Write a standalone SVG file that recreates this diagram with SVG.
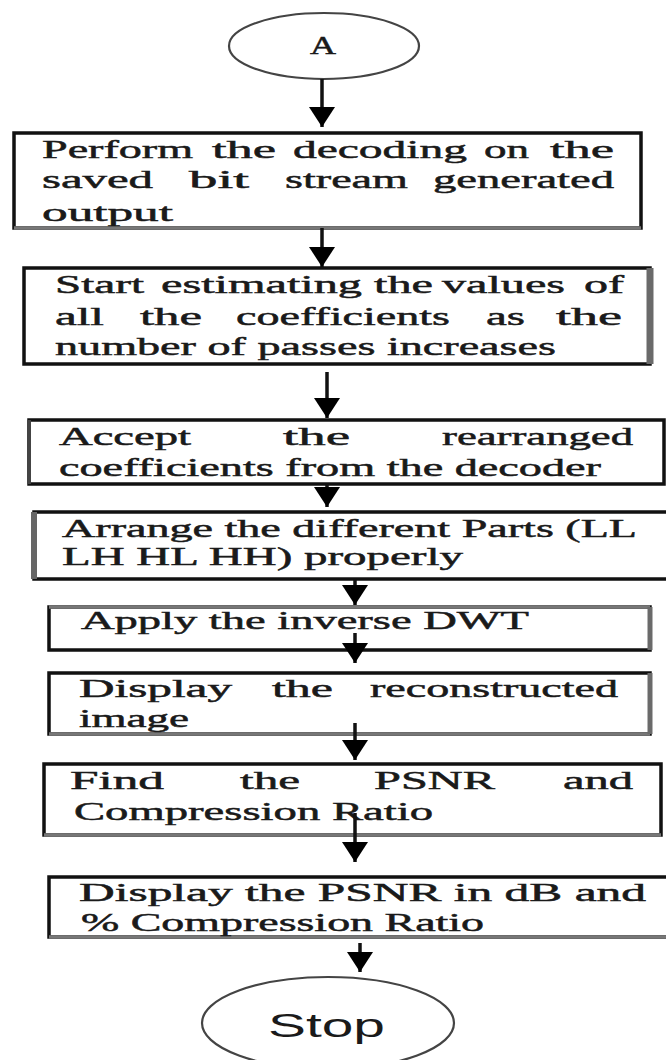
<svg xmlns="http://www.w3.org/2000/svg" width="666" height="1060" viewBox="0 0 666 1060">
<style>
.bg{fill:#fff}
.box{fill:#fff;stroke:#111;stroke-width:3.5}
.gr{stroke:#777;stroke-width:3.5}
.ell{fill:#fff;stroke:#444;stroke-width:2.2}
.t{font-family:"Liberation Serif","Times New Roman",serif;font-size:26px;fill:#1a1a1a;stroke:#1a1a1a;stroke-width:0.5}
.s{font-family:"Liberation Sans",Arial,sans-serif;font-size:34px;fill:#1a1a1a}
.sh{stroke:#111;stroke-width:3.5;fill:none}
</style>
<defs>
<marker id="ah" viewBox="0 0 20 26" refX="20" refY="13" markerWidth="20" markerHeight="26" markerUnits="userSpaceOnUse" orient="auto">
<path d="M0,0 L20,13 L0,26 Z" fill="#000"/>
</marker>
</defs>
<rect class="bg" x="0" y="0" width="666" height="1060"/>

<g id="nodeA">
<ellipse class="ell" cx="324" cy="46" rx="95" ry="33"/>
<text class="t" x="310" y="54" font-size="18" textLength="26" lengthAdjust="spacingAndGlyphs">A</text>
</g>

<g id="box1">
<rect class="box" x="14" y="133" width="627" height="95"/>
<line class="gr" x1="14" y1="228" x2="641" y2="228"/>
<text class="t" x="42" y="158" textLength="151" lengthAdjust="spacingAndGlyphs">Perform</text>
<text class="t" x="212" y="158" textLength="64" lengthAdjust="spacingAndGlyphs">the</text>
<text class="t" x="293" y="158" textLength="174" lengthAdjust="spacingAndGlyphs">decoding</text>
<text class="t" x="484" y="158" textLength="45" lengthAdjust="spacingAndGlyphs">on</text>
<text class="t" x="550" y="158" textLength="64" lengthAdjust="spacingAndGlyphs">the</text>
<text class="t" x="42" y="188" textLength="111" lengthAdjust="spacingAndGlyphs">saved</text>
<text class="t" x="189" y="188" textLength="60" lengthAdjust="spacingAndGlyphs">bit</text>
<text class="t" x="285" y="188" textLength="123" lengthAdjust="spacingAndGlyphs">stream</text>
<text class="t" x="433" y="188" textLength="181" lengthAdjust="spacingAndGlyphs">generated</text>
<text class="t" x="42" y="221" textLength="131" lengthAdjust="spacingAndGlyphs">output</text>
</g>

<g id="box2">
<rect class="box" x="24" y="268" width="626" height="96"/>
<line x1="650" y1="268" x2="650" y2="364" stroke="#6a6a6a" stroke-width="7"/>
<text class="t" x="55" y="293" textLength="89" lengthAdjust="spacingAndGlyphs">Start</text>
<text class="t" x="161" y="293" textLength="272" lengthAdjust="spacingAndGlyphs">estimating the</text>
<text class="t" x="442" y="293" textLength="123" lengthAdjust="spacingAndGlyphs">values</text>
<text class="t" x="584" y="293" textLength="40" lengthAdjust="spacingAndGlyphs">of</text>
<text class="t" x="55" y="325" textLength="49" lengthAdjust="spacingAndGlyphs">all</text>
<text class="t" x="140" y="325" textLength="62" lengthAdjust="spacingAndGlyphs">the</text>
<text class="t" x="236" y="325" textLength="214" lengthAdjust="spacingAndGlyphs">coefficients</text>
<text class="t" x="486" y="325" textLength="39" lengthAdjust="spacingAndGlyphs">as</text>
<text class="t" x="556" y="325" textLength="66" lengthAdjust="spacingAndGlyphs">the</text>
<text class="t" x="55" y="355" textLength="501" lengthAdjust="spacingAndGlyphs">number of passes increases</text>
</g>

<g id="box3">
<rect class="box" x="29" y="420" width="635" height="64"/>
<line x1="29" y1="420" x2="29" y2="484" stroke="#444" stroke-width="4"/>
<text class="t" x="59" y="445" textLength="132" lengthAdjust="spacingAndGlyphs">Accept</text>
<text class="t" x="283" y="445" textLength="67" lengthAdjust="spacingAndGlyphs">the</text>
<text class="t" x="442" y="445" textLength="191" lengthAdjust="spacingAndGlyphs">rearranged</text>
<text class="t" x="59" y="476" textLength="542" lengthAdjust="spacingAndGlyphs">coefficients from the decoder</text>
</g>

<g id="box4">
<rect class="box" x="34" y="512" width="640" height="67"/>
<line x1="34" y1="512" x2="34" y2="579" stroke="#666" stroke-width="6"/>
<text class="t" x="62" y="537" textLength="575" lengthAdjust="spacingAndGlyphs">Arrange the different Parts (LL</text>
<text class="t" x="62" y="565" textLength="401" lengthAdjust="spacingAndGlyphs">LH HL HH) properly</text>
</g>

<g id="box5">
<rect class="box" x="49" y="607" width="601" height="43"/>
<line class="gr" x1="49" y1="607" x2="650" y2="607"/>
<line x1="650" y1="607" x2="650" y2="650" stroke="#6a6a6a" stroke-width="5"/>
<text class="t" x="81" y="629" textLength="448" lengthAdjust="spacingAndGlyphs">Apply the inverse DWT</text>
</g>

<g id="box6">
<rect class="box" x="49" y="673" width="601" height="61"/>
<line class="gr" x1="49" y1="734" x2="650" y2="734"/>
<line x1="650" y1="673" x2="650" y2="734" stroke="#6a6a6a" stroke-width="5"/>
<text class="t" x="79" y="697" textLength="153" lengthAdjust="spacingAndGlyphs">Display</text>
<text class="t" x="272" y="697" textLength="61" lengthAdjust="spacingAndGlyphs">the</text>
<text class="t" x="370" y="697" textLength="248" lengthAdjust="spacingAndGlyphs">reconstructed</text>
<text class="t" x="79" y="727" textLength="110" lengthAdjust="spacingAndGlyphs">image</text>
</g>

<g id="box7">
<rect class="box" x="44" y="764" width="617" height="71"/>
<line class="gr" x1="44" y1="835" x2="661" y2="835"/>
<text class="t" x="70" y="789" textLength="94" lengthAdjust="spacingAndGlyphs">Find</text>
<text class="t" x="240" y="789" textLength="60" lengthAdjust="spacingAndGlyphs">the</text>
<text class="t" x="374" y="789" textLength="121" lengthAdjust="spacingAndGlyphs">PSNR</text>
<text class="t" x="563" y="789" textLength="70" lengthAdjust="spacingAndGlyphs">and</text>
<text class="t" x="74" y="820" textLength="359" lengthAdjust="spacingAndGlyphs">Compression Ratio</text>
</g>

<g id="box8">
<rect class="box" x="49" y="877" width="625" height="60"/>
<line class="gr" x1="49" y1="937" x2="666" y2="937"/>
<text class="t" x="79" y="901" textLength="567" lengthAdjust="spacingAndGlyphs">Display the PSNR in dB and</text>
<text class="t" x="81" y="931" textLength="403" lengthAdjust="spacingAndGlyphs">% Compression Ratio</text>
</g>

<g id="stop">
<ellipse class="ell" cx="328" cy="1023" rx="126" ry="46"/>
<text class="s" x="268" y="1037" textLength="117" lengthAdjust="spacingAndGlyphs">Stop</text>
</g>

<g id="connectors">
<line class="sh" x1="322" y1="79" x2="322" y2="127" marker-end="url(#ah)"/>
<line class="sh" x1="322" y1="228" x2="322" y2="267" marker-end="url(#ah)"/>
<line class="sh" x1="327" y1="372" x2="327" y2="418" marker-end="url(#ah)"/>
<line class="sh" x1="327" y1="484" x2="327" y2="507" marker-end="url(#ah)"/>
<line class="sh" x1="355" y1="579" x2="355" y2="605" marker-end="url(#ah)"/>
<line class="sh" x1="355" y1="633" x2="355" y2="663" marker-end="url(#ah)"/>
<line class="sh" x1="355" y1="723" x2="355" y2="760" marker-end="url(#ah)"/>
<line class="sh" x1="355" y1="813" x2="355" y2="862" marker-end="url(#ah)"/>
<line class="sh" x1="360" y1="943" x2="360" y2="972" marker-end="url(#ah)"/>
</g>
</svg>
